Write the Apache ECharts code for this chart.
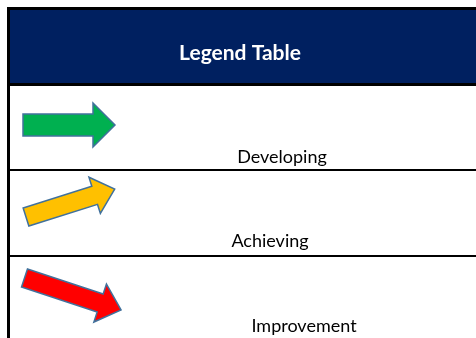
<!DOCTYPE html>
<html>
<head>
<meta charset="utf-8">
<script src="https://cdn.jsdelivr.net/npm/echarts@6/dist/echarts.min.js"></script>
<style>html,body{margin:0;padding:0;background:#fff}#c{width:476px;height:338px}</style>
</head>
<body>
<div id="c"></div>
<script>
var title = 'Legend Table';
var categories = ['Developing', 'Achieving', 'Improvement'];
var arrowColors = ['#00B050', '#FFC000', '#FF0000'];
// arrow direction per category, in degrees (positive = upward)
var arrowAngles = [0, 17.5, -18.3];

var chart = echarts.init(document.getElementById('c'), null, {renderer: 'canvas'});

function arrowPoints(tx, ty, len, bodyHalf, headHalf, headLen, angDeg) {
  var a = -angDeg * Math.PI / 180;
  var c = Math.cos(a), s = Math.sin(a);
  var local = [
    [0, -bodyHalf], [len - headLen, -bodyHalf], [len - headLen, -headHalf],
    [len, 0], [len - headLen, headHalf], [len - headLen, bodyHalf], [0, bodyHalf]
  ];
  return local.map(function (p) {
    return [tx + p[0] * c - p[1] * s, ty + p[0] * s + p[1] * c];
  });
}

var arrowGeom = [
  {tx: 23, ty: 125, len: 92, bh: 11, hh: 22, hl: 22},
  {tx: 26, ty: 217, len: 93, bh: 9.5, hh: 19, hl: 21},
  {tx: 24.5, ty: 278, len: 101.7, bh: 9.5, hh: 20, hl: 22}
];
var textPos = [[282, 157], [270, 241], [304, 326]];
var rowLines = [169, 255];

var graphics = [
  {type: 'rect', shape: {x: 0, y: 0, width: 476, height: 338}, style: {fill: '#ffffff'}},
  {type: 'rect', shape: {x: 10, y: 10, width: 466, height: 73}, style: {fill: '#002060'}},
  {type: 'rect', shape: {x: 7, y: 7, width: 469, height: 3}, style: {fill: '#000000'}},
  {type: 'rect', shape: {x: 7, y: 7, width: 3, height: 331}, style: {fill: '#000000'}},
  {type: 'rect', shape: {x: 7, y: 83, width: 469, height: 3}, style: {fill: '#000000'}},
  {type: 'text', x: 240, y: 53, style: {text: title, fill: '#ffffff', fontSize: 21, fontWeight: 'bold', fontFamily: 'Lato', align: 'center', verticalAlign: 'middle'}}
];
rowLines.forEach(function (y) {
  graphics.push({type: 'rect', shape: {x: 7, y: y, width: 469, height: 2}, style: {fill: '#000000'}});
});
categories.forEach(function (name, i) {
  var g = arrowGeom[i];
  graphics.push({
    type: 'polygon',
    shape: {points: arrowPoints(g.tx, g.ty, g.len, g.bh, g.hh, g.hl, arrowAngles[i])},
    style: {fill: arrowColors[i], stroke: '#41719C', lineWidth: 1.5}
  });
  graphics.push({
    type: 'text', x: textPos[i][0], y: textPos[i][1],
    style: {text: name, fill: '#000000', fontSize: 18, fontFamily: 'Lato', align: 'center', verticalAlign: 'middle'}
  });
});

chart.setOption({
  animation: false,
  backgroundColor: '#ffffff',
  graphic: {elements: graphics}
});
</script>
</body>
</html>
